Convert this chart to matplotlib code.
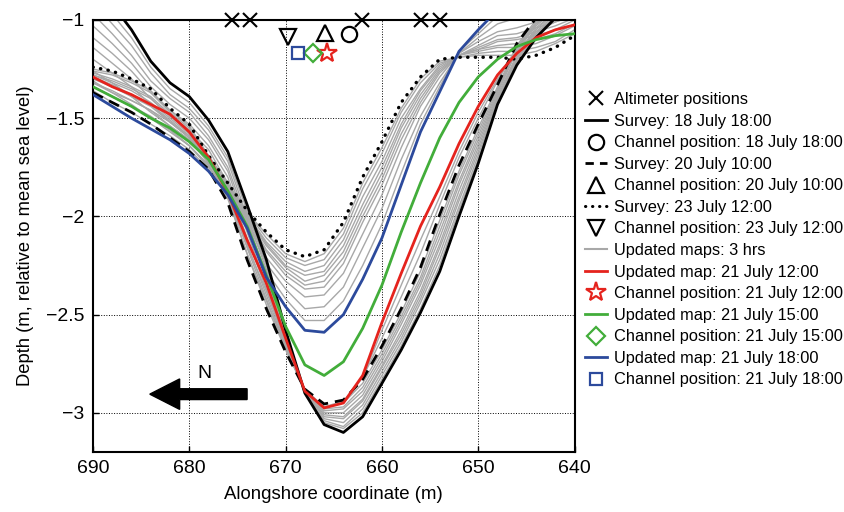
import matplotlib
matplotlib.use("Agg")
import matplotlib.pyplot as plt
from matplotlib.lines import Line2D
from matplotlib.patches import FancyArrow

plt.rcParams['font.family'] = ['Liberation Sans', 'DejaVu Sans']

# ---------------- data ----------------
x = [690, 688, 686, 684, 682, 680, 678, 676, 674, 672, 670, 668, 666,
     664, 662, 660, 658, 656, 654, 652, 650, 648, 646, 644, 642, 640]

survey_18 = [-0.80, -0.92, -1.05, -1.21, -1.32, -1.39, -1.51, -1.67, -1.94, -2.22, -2.58, -2.90, -3.06,
             -3.10, -3.02, -2.85, -2.68, -2.49, -2.28, -2.00, -1.73, -1.43, -1.23, -1.09, -0.99, -0.93]
survey_20 = [-1.37, -1.42, -1.47, -1.53, -1.60, -1.67, -1.76, -1.93, -2.22, -2.47, -2.69, -2.88, -2.955,
             -2.935, -2.83, -2.66, -2.47, -2.26, -1.99, -1.74, -1.53, -1.33, -1.12, -0.99, -0.92, -0.88]
survey_23 = [-1.24, -1.26, -1.30, -1.35, -1.45, -1.53, -1.69, -1.83, -1.97, -2.08, -2.17, -2.205, -2.17,
             -2.03, -1.80, -1.62, -1.42, -1.29, -1.20, -1.19, -1.19, -1.19, -1.20, -1.18, -1.14, -1.08]
map_21_12 = [-1.29, -1.34, -1.38, -1.43, -1.48, -1.57, -1.70, -1.88, -2.12, -2.34, -2.62, -2.89, -2.975,
             -2.95, -2.81, -2.54, -2.29, -2.05, -1.85, -1.63, -1.44, -1.28, -1.17, -1.09, -1.05, -1.025]
map_21_15 = [-1.34, -1.39, -1.44, -1.50, -1.55, -1.62, -1.71, -1.87, -2.05, -2.30, -2.56, -2.756, -2.81,
             -2.74, -2.57, -2.35, -2.08, -1.83, -1.60, -1.42, -1.29, -1.20, -1.135, -1.10, -1.08, -1.07]
map_21_18 = [-1.38, -1.44, -1.50, -1.555, -1.61, -1.68, -1.77, -1.89, -2.06, -2.31, -2.46, -2.58, -2.59,
             -2.50, -2.32, -2.11, -1.84, -1.57, -1.365, -1.16, -1.05, -0.95, -0.90, -0.87, -0.85, -0.83]

maps_3hrs = [
    [-0.86, -0.97, -1.09, -1.24, -1.35, -1.42, -1.54, -1.70, -1.97, -2.25, -2.59, -2.90, -3.05, -3.08, -3.00, -2.83, -2.66, -2.47, -2.25, -1.97, -1.71, -1.42, -1.22, -1.08, -0.98, -0.93],
    [-0.91, -1.02, -1.13, -1.27, -1.38, -1.45, -1.56, -1.72, -2.00, -2.27, -2.60, -2.90, -3.04, -3.07, -2.98, -2.81, -2.64, -2.44, -2.22, -1.95, -1.69, -1.41, -1.21, -1.07, -0.98, -0.92],
    [-0.97, -1.07, -1.18, -1.31, -1.40, -1.47, -1.59, -1.75, -2.02, -2.30, -2.61, -2.89, -3.03, -3.05, -2.96, -2.79, -2.62, -2.42, -2.19, -1.92, -1.67, -1.40, -1.20, -1.06, -0.97, -0.92],
    [-1.03, -1.12, -1.22, -1.34, -1.43, -1.50, -1.61, -1.77, -2.05, -2.32, -2.62, -2.89, -3.02, -3.03, -2.94, -2.77, -2.60, -2.40, -2.16, -1.90, -1.65, -1.39, -1.19, -1.05, -0.96, -0.91],
    [-1.09, -1.17, -1.26, -1.37, -1.46, -1.53, -1.64, -1.80, -2.08, -2.35, -2.64, -2.89, -3.01, -3.02, -2.93, -2.76, -2.58, -2.38, -2.14, -1.87, -1.63, -1.38, -1.18, -1.04, -0.96, -0.91],
    [-1.14, -1.22, -1.30, -1.40, -1.49, -1.56, -1.66, -1.83, -2.11, -2.37, -2.65, -2.89, -3.00, -3.00, -2.91, -2.74, -2.55, -2.35, -2.11, -1.84, -1.61, -1.37, -1.16, -1.03, -0.95, -0.90],
    [-1.20, -1.27, -1.34, -1.43, -1.52, -1.59, -1.69, -1.85, -2.14, -2.40, -2.66, -2.89, -2.99, -2.98, -2.89, -2.72, -2.53, -2.33, -2.08, -1.82, -1.59, -1.36, -1.15, -1.02, -0.94, -0.90],
    [-1.26, -1.32, -1.39, -1.47, -1.54, -1.61, -1.71, -1.88, -2.16, -2.42, -2.67, -2.88, -2.98, -2.97, -2.87, -2.70, -2.51, -2.31, -2.05, -1.79, -1.57, -1.35, -1.14, -1.01, -0.93, -0.89],
    [-1.31, -1.37, -1.43, -1.50, -1.57, -1.64, -1.74, -1.90, -2.19, -2.45, -2.68, -2.88, -2.97, -2.95, -2.85, -2.68, -2.49, -2.28, -2.02, -1.77, -1.55, -1.34, -1.13, -1.00, -0.93, -0.89],
    [-1.34, -1.39, -1.44, -1.50, -1.56, -1.64, -1.74, -1.91, -2.19, -2.43, -2.67, -2.89, -2.97, -2.94, -2.82, -2.62, -2.41, -2.19, -1.94, -1.70, -1.50, -1.31, -1.14, -1.02, -0.96, -0.93],
    [-1.32, -1.37, -1.41, -1.46, -1.52, -1.60, -1.72, -1.90, -2.15, -2.38, -2.64, -2.89, -2.97, -2.95, -2.82, -2.58, -2.35, -2.12, -1.90, -1.67, -1.47, -1.30, -1.16, -1.06, -1.01, -0.98],
    [-1.36, -1.42, -1.47, -1.53, -1.59, -1.66, -1.76, -1.88, -2.05, -2.28, -2.42, -2.53, -2.53, -2.43, -2.25, -2.04, -1.78, -1.53, -1.34, -1.16, -1.07, -0.98, -0.94, -0.91, -0.89, -0.87],
    [-1.34, -1.39, -1.44, -1.49, -1.56, -1.64, -1.75, -1.87, -2.03, -2.24, -2.37, -2.47, -2.46, -2.36, -2.16, -1.96, -1.71, -1.49, -1.32, -1.17, -1.09, -1.02, -0.99, -0.96, -0.94, -0.91],
    [-1.32, -1.36, -1.41, -1.46, -1.54, -1.61, -1.73, -1.86, -2.02, -2.21, -2.33, -2.41, -2.40, -2.29, -2.09, -1.89, -1.65, -1.44, -1.29, -1.17, -1.11, -1.06, -1.04, -1.01, -0.98, -0.94],
    [-1.30, -1.34, -1.39, -1.44, -1.52, -1.60, -1.73, -1.86, -2.01, -2.18, -2.30, -2.37, -2.36, -2.24, -2.03, -1.84, -1.61, -1.42, -1.27, -1.18, -1.13, -1.08, -1.07, -1.04, -1.01, -0.97],
    [-1.29, -1.33, -1.38, -1.43, -1.51, -1.59, -1.72, -1.85, -2.00, -2.17, -2.28, -2.35, -2.33, -2.21, -2.00, -1.81, -1.58, -1.40, -1.26, -1.18, -1.14, -1.10, -1.09, -1.06, -1.03, -0.99],
    [-1.28, -1.32, -1.36, -1.42, -1.50, -1.58, -1.72, -1.85, -2.00, -2.15, -2.26, -2.33, -2.30, -2.18, -1.97, -1.78, -1.55, -1.38, -1.25, -1.18, -1.15, -1.11, -1.10, -1.08, -1.05, -1.00],
    [-1.28, -1.31, -1.35, -1.40, -1.49, -1.57, -1.71, -1.85, -1.99, -2.14, -2.25, -2.30, -2.28, -2.15, -1.94, -1.75, -1.53, -1.36, -1.24, -1.18, -1.15, -1.13, -1.12, -1.10, -1.07, -1.02],
    [-1.27, -1.30, -1.34, -1.39, -1.48, -1.56, -1.71, -1.84, -1.99, -2.13, -2.23, -2.28, -2.25, -2.12, -1.90, -1.72, -1.50, -1.35, -1.23, -1.18, -1.16, -1.14, -1.14, -1.12, -1.08, -1.03],
    [-1.26, -1.28, -1.32, -1.37, -1.47, -1.55, -1.70, -1.84, -1.98, -2.11, -2.21, -2.25, -2.22, -2.09, -1.86, -1.68, -1.47, -1.32, -1.22, -1.19, -1.17, -1.16, -1.16, -1.14, -1.11, -1.05],
    [-1.25, -1.27, -1.31, -1.36, -1.46, -1.54, -1.69, -1.83, -1.98, -2.09, -2.19, -2.23, -2.19, -2.06, -1.83, -1.65, -1.45, -1.30, -1.21, -1.19, -1.18, -1.18, -1.18, -1.16, -1.12, -1.07],
]

altimeter_x = [675.6, 673.7, 662.1, 655.9, 654.0]
altimeter_y = [-1.0, -1.0, -1.0, -1.0, -1.0]

chan_18 = (663.4, -1.07)
chan_20 = (665.9, -1.065)
chan_23 = (669.7, -1.085)
chan_21_12 = (665.7, -1.17)
chan_21_15 = (667.2, -1.17)
chan_21_18 = (668.7, -1.17)

xticks = [690, 680, 670, 660, 650, 640]
yticks = [-1, -1.5, -2, -2.5, -3]
yticklabels = ['\u22121', '\u22121.5', '\u22122', '\u22122.5', '\u22123']

legend_labels = [
    'Altimeter positions',
    'Survey: 18 July 18:00',
    'Channel position: 18 July 18:00',
    'Survey: 20 July 10:00',
    'Channel position: 20 July 10:00',
    'Survey: 23 July 12:00',
    'Channel position: 23 July 12:00',
    'Updated maps: 3 hrs',
    'Updated map: 21 July 12:00',
    'Channel position: 21 July 12:00',
    'Updated map: 21 July 15:00',
    'Channel position: 21 July 15:00',
    'Updated map: 21 July 18:00',
    'Channel position: 21 July 18:00',
]

RED = '#e5231d'
GREEN = '#42ad3a'
BLUE = '#2c4a9c'
GRAY = '#a8a8a8'

# ---------------- figure ----------------
fig = plt.figure(figsize=(8.45, 5.12), dpi=100)
ax = fig.add_axes([0.110, 0.117, 0.570, 0.844])

for row in maps_3hrs:
    ax.plot(x, row, color=GRAY, lw=1.0, zorder=2)

DOT = (0, (0.1, 2.2))
DASH = (0, (4, 2.5))
ax.plot(x, survey_18, color='k', lw=2.0, zorder=4)
ax.plot(x, survey_20, color='k', lw=2.0, ls=DASH, zorder=4)
ax.plot(x, survey_23, color='k', lw=2.4, ls=DOT, dash_capstyle='round', zorder=4)
ax.plot(x, map_21_12, color=RED, lw=2.0, zorder=5)
ax.plot(x, map_21_15, color=GREEN, lw=2.0, zorder=5)
ax.plot(x, map_21_18, color=BLUE, lw=2.0, zorder=5)

# markers
ax.plot(altimeter_x, altimeter_y, ls='none', marker='x', ms=10, mew=1.5, color='k', clip_on=False, zorder=6)
mk = dict(ls='none', mfc='none', clip_on=False, zorder=6, mew=1.6)
ax.plot(*chan_18, marker='o', ms=11, mec='k', **mk)
ax.plot(*chan_20, marker='^', ms=11, mec='k', **mk)
ax.plot(*chan_23, marker='v', ms=11, mec='k', **mk)
ax.plot(*chan_21_12, marker='*', ms=15, mec=RED, **mk)
ax.plot(*chan_21_15, marker='D', ms=9, mec=GREEN, **mk)
ax.plot(*chan_21_18, marker='s', ms=9, mec=BLUE, **mk)

# North arrow (points towards larger alongshore coordinate = left)
ax.add_patch(FancyArrow(674.0, -2.905, 10.1, 0, width=0.055, head_width=0.155,
                        head_length=3.1, length_includes_head=True, color='k', zorder=6))
ax.text(678.4, -2.80, 'N', fontsize=14, ha='center', va='center')

ax.set_xlim(690, 640)
ax.set_ylim(-3.2, -1)
ax.set_xticks(xticks)
ax.set_yticks(yticks)
ax.set_yticklabels(yticklabels)
ax.tick_params(direction='in', length=4, labelsize=14, width=1, pad=6)
ax.grid(True, color='k', ls=':', lw=0.7)
for s in ax.spines.values():
    s.set_linewidth(1.5)
ax.set_xlabel('Alongshore coordinate (m)', fontsize=13.4, labelpad=6)
ax.set_ylabel('Depth (m, relative to mean sea level)', fontsize=13.2, labelpad=9)

handles = [
    Line2D([], [], ls='none', marker='x', ms=10, mew=1.5, color='k'),
    Line2D([], [], color='k', lw=2.0),
    Line2D([], [], ls='none', marker='o', ms=11, mfc='none', mec='k', mew=1.6),
    Line2D([], [], color='k', lw=2.0, ls=(0, (3, 2.2))),
    Line2D([], [], ls='none', marker='^', ms=11, mfc='none', mec='k', mew=1.6),
    Line2D([], [], color='k', lw=2.2, ls=DOT, dash_capstyle='round'),
    Line2D([], [], ls='none', marker='v', ms=11, mfc='none', mec='k', mew=1.6),
    Line2D([], [], color=GRAY, lw=1.5),
    Line2D([], [], color=RED, lw=2.0),
    Line2D([], [], ls='none', marker='*', ms=15, mfc='none', mec=RED, mew=1.6),
    Line2D([], [], color=GREEN, lw=2.0),
    Line2D([], [], ls='none', marker='D', ms=9, mfc='none', mec=GREEN, mew=1.6),
    Line2D([], [], color=BLUE, lw=2.0),
    Line2D([], [], ls='none', marker='s', ms=9, mfc='none', mec=BLUE, mew=1.6),
]
fig.legend(handles, legend_labels, loc='upper left', bbox_to_anchor=(0.692, 0.820), frameon=False,
           fontsize=11.8, handlelength=1.34, handletextpad=0.43, labelspacing=0.40, borderpad=0,
           borderaxespad=0)

fig.savefig('out.png', dpi=100)
